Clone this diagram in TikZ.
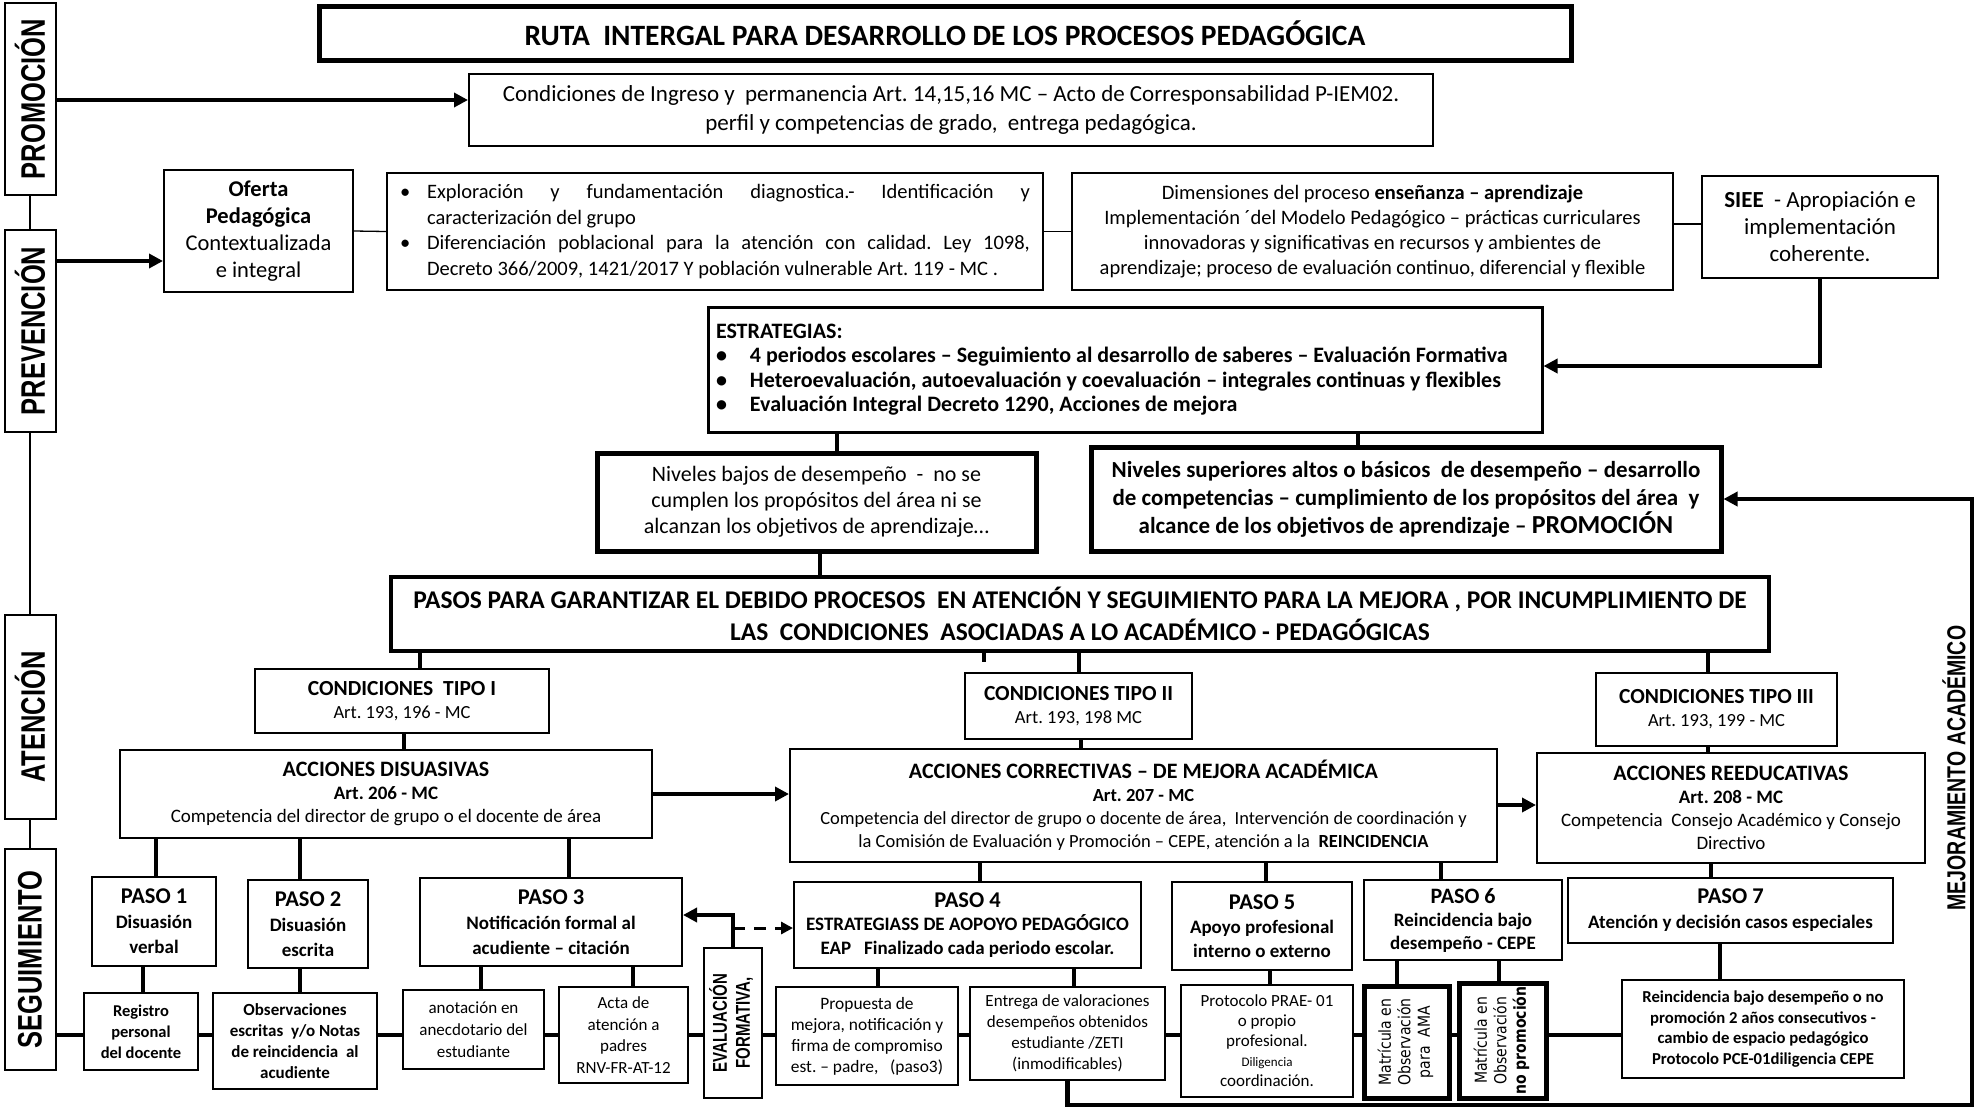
\documentclass[tikz,border=0pt]{standalone}
\usepackage{fontspec}
\setmainfont{Carlito}
\newfontfamily\sidef{Liberation Sans}[FakeStretch=0.75]
\newfontfamily\verd{DejaVu Sans}[FakeStretch=0.85]
\usepackage{graphicx}
\usetikzlibrary{arrows.meta}
\frenchspacing
\newcommand\fz[2]{\fontsize{#1}{#2}\selectfont}
\newcommand\bul{\noindent\hangindent=27pt\hangafter=1\makebox[27pt][l]{\textbullet}}
\newcommand\ebul{\makebox[34pt][l]{\textbullet}}

\begin{document}
\begin{tikzpicture}[x=1pt, y=-1pt,
  box/.style={draw, line width=2pt, fill=white, inner sep=3pt, align=center},
  side/.style={draw, line width=2pt, minimum width=51, inner sep=0pt, font=\sidef\bfseries\fz{34}{34}},
  rot/.style={box, font=\verd\fz{16.5}{19.5}},
  thinline/.style={line width=1.3pt},
  vline/.style={line width=3.5pt},
  chain/.style={line width=3.5pt},
  arr/.style={line width=4.5pt, -{Triangle[length=14pt,width=14pt]}}]
\useasboundingbox (0,0) rectangle (1976,1109);

% columna lateral
\node[side, minimum height=192] (promo) at (30,99) {\rotatebox{90}{PROMOCIÓN}};
\node[side, minimum height=202] (prev) at (30,331) {\rotatebox{90}{PREVENCIÓN}};
\node[side, minimum height=204] (aten) at (30,717) {\rotatebox{90}{ATENCIÓN}};
\node[side, minimum height=221] (segu) at (30,959.5) {\rotatebox{90}{SEGUIMIENTO}};

% parte superior
\node[box, line width=5pt, minimum width=1252, minimum height=54, font=\bfseries\fz{29.5}{32}] (titulo) at (945,33) {RUTA\ \ INTERGAL PARA DESARROLLO DE LOS PROCESOS PEDAGÓGICA};
\node[box, minimum width=964, minimum height=72, font=\fz{23}{29}] (cond) at (951,110) {Condiciones de Ingreso y\ \ permanencia Art. 14,15,16 MC – Acto de Corresponsabilidad P-IEM02.\\ perfil y competencias de grado,\ \ entrega pedagógica.};
\node[box, minimum width=189, minimum height=122, font=\fz{22.5}{27}] (oferta) at (258.5,231) {\textbf{Oferta}\\ \textbf{Pedagógica}\\ Contextualizada\\ e integral};
\node[box, minimum width=656, minimum height=117, text width=630, inner xsep=13pt, align=justify, font=\fz{20.5}{25.5}] (explo) at (715,231.5) {\bul Exploración y fundamentación diagnostica.- Identificación y\linebreak caracterización del grupo\par
  \bul Diferenciación poblacional para la atención con calidad. Ley 1098,\linebreak Decreto 366/2009, 1421/2017 Y población vulnerable Art. 119 - MC .\par};
\node[box, minimum width=601, minimum height=117, font=\fz{20.5}{25}] (dimen) at (1372.5,231.5) {Dimensiones del proceso \textbf{enseñanza – aprendizaje}\\ Implementación ´del Modelo Pedagógico – prácticas curriculares\\ innovadoras y significativas en recursos y ambientes de\\ aprendizaje; proceso de evaluación continuo, diferencial y flexible};
\node[box, minimum width=236, minimum height=102, font=\fz{23}{27}] (siee) at (1820,227) {\textbf{SIEE}\ \ - Apropiación e\\ implementación\\ coherente.};
\node[box, line width=3pt, minimum width=834, minimum height=125, text width=818, inner xsep=8pt, align=flush left, font=\bfseries\fz{22}{24.5}] (estrat) at (1125,369.5) {ESTRATEGIAS:\\ \ebul 4 periodos escolares – Seguimiento al desarrollo de saberes – Evaluación Formativa\\ \ebul Heteroevaluación, autoevaluación y coevaluación – integrales continuas y flexibles\\ \ebul Evaluación Integral Decreto 1290, Acciones de mejora};
\node[box, line width=5pt, minimum width=439, minimum height=98, font=\fz{22}{26}] (nbajo) at (816.5,502) {Niveles bajos de desempeño\ \ -\ \ no se\\ cumplen los propósitos del área ni se\\ alcanzan los objetivos de aprendizaje…};
\node[box, line width=5pt, minimum width=630, minimum height=104, font=\bfseries\fz{23}{28}] (nsup) at (1406,499) {Niveles superiores altos o básicos\ \ de desempeño – desarrollo\\ de competencias – cumplimiento de los propósitos del área\ \ y\\ alcance de los objetivos de aprendizaje – {\fz{26}{28}PROMOCIÓN}};
\node[box, line width=4pt, minimum width=1378, minimum height=74, font=\bfseries\fz{25.5}{32}] (pasos) at (1080,614) {PASOS PARA GARANTIZAR EL DEBIDO PROCESOS\ \ EN ATENCIÓN Y SEGUIMIENTO PARA LA MEJORA , POR INCUMPLIMIENTO DE\\ LAS\ \ CONDICIONES\ \ ASOCIADAS A LO ACADÉMICO - PEDAGÓGICAS};

% condiciones y acciones
\node[box, minimum width=294, minimum height=64, font=\fz{18.5}{23}] (tipo1) at (402,701) {{\bfseries\fz{21.5}{23}CONDICIONES\ \ TIPO I}\\ Art. 193, 196 - MC};
\node[box, minimum width=227, minimum height=66, font=\fz{18.5}{23}] (tipo2) at (1078.5,706) {{\bfseries\fz{21.5}{23}CONDICIONES TIPO II}\\ Art. 193, 198 MC};
\node[box, minimum width=241, minimum height=73, font=\fz{18.5}{23}] (tipo3) at (1716.5,709.5) {{\bfseries\fz{21.5}{23}CONDICIONES TIPO III}\\ Art. 193, 199 - MC};
\node[box, minimum width=532, minimum height=88, font=\fz{19}{23}] (disua) at (386,794) {{\bfseries\fz{22}{23}ACCIONES DISUASIVAS}\\ \textbf{Art. 206 - MC}\\ Competencia del director de grupo o el docente de área};
\node[box, minimum width=707, minimum height=113, font=\fz{18.5}{23}] (correc) at (1143.5,805.5) {{\bfseries\fz{22}{23}ACCIONES CORRECTIVAS – DE MEJORA ACADÉMICA}\\ \textbf{Art. 207 - MC}\\ Competencia del director de grupo o docente de área,\ \ Intervención de coordinación y\\ la Comisión de Evaluación y Promoción – CEPE, atención a la\ \ \textbf{REINCIDENCIA}};
\node[box, minimum width=388, minimum height=110, font=\fz{19}{23}] (reedu) at (1731,808) {{\bfseries\fz{22}{23}ACCIONES REEDUCATIVAS}\\ \textbf{Art. 208 - MC}\\ Competencia\ \ Consejo Académico y Consejo\\ Directivo};

% pasos
\node[box, minimum width=124, minimum height=89, font=\bfseries\fz{19}{25}] (paso1) at (154,921.5) {{\fz{22.5}{25}PASO 1}\\ Disuasión\\ verbal};
\node[box, minimum width=120, minimum height=88, font=\bfseries\fz{19}{25}] (paso2) at (308,924) {{\fz{22.5}{25}PASO 2}\\ Disuasión\\ escrita};
\node[box, minimum width=262, minimum height=88, font=\bfseries\fz{19}{25}] (paso3) at (551,922) {{\fz{22.5}{25}PASO 3}\\ Notificación formal al\\ acudiente – citación};
\node[box, minimum width=347, minimum height=86, font=\bfseries\fz{19}{23.5}] (paso4) at (967.5,925) {{\fz{22.5}{23.5}PASO 4}\\ ESTRATEGIASS DE AOPOYO PEDAGÓGICO\\ EAP\ \ \ Finalizado cada periodo escolar.};
\node[box, minimum width=180, minimum height=88, font=\bfseries\fz{19}{24}] (paso5) at (1262,926) {{\fz{22.5}{24}PASO 5}\\ Apoyo profesional\\ interno o externo};
\node[box, minimum width=198, minimum height=80, inner ysep=1pt, font=\bfseries\fz{19}{23}] (paso6) at (1463,920) {{\fz{22}{23}PASO 6}\\ Reincidencia bajo\\ desempeño - CEPE};
\node[box, minimum width=325, minimum height=65, font=\bfseries\fz{19}{25}] (paso7) at (1730.5,910.5) {{\fz{22.5}{25}PASO 7}\\ Atención y decisión casos especiales};

% fila inferior
\node[box, minimum width=114, minimum height=77, font=\bfseries\fz{16.5}{21}] (regis) at (141,1031.5) {Registro\\ personal\\ del docente};
\node[box, minimum width=164, minimum height=96, font=\bfseries\fz{17}{21}] (obser) at (295,1041) {Observaciones\\ escritas\ \ y/o Notas\\ de reincidencia\ \ al\\ acudiente};
\node[box, minimum width=141, minimum height=79, font=\fz{17}{22}] (anot) at (473.5,1029.5) {anotación en\\ anecdotario del\\ estudiante};
\node[box, minimum width=129, minimum height=96, font=\fz{17}{21.5}] (acta) at (623.5,1035) {Acta de\\ atención a\\ padres\\ RNV-FR-AT-12};
\node[box, minimum width=58, minimum height=150, font=\sidef\bfseries\fz{20}{23}] (evalf) at (733,1023) {\rotatebox{90}{\begin{tabular}{@{}c@{}}EVALUACIÓN\\ FORMATIVA,\end{tabular}}};
\node[box, minimum width=182, minimum height=98, font=\fz{17.4}{21}] (propu) at (867,1036) {Propuesta de\\ mejora, notificación y\\ firma de compromiso\\ est. – padre,\ \ \ (paso3)};
\node[box, minimum width=195, minimum height=93, font=\fz{17}{21}] (entre) at (1067.5,1033.5) {Entrega de valoraciones\\ desempeños obtenidos\\ estudiante /ZETI\\ (inmodificables)};
\node[box, minimum width=172, minimum height=112, font=\fz{17}{20}] (proto) at (1267,1041) {Protocolo PRAE- 01\\ o propio\\ profesional.\\ \fz{13}{17}Diligencia\\ coordinación.};
\node[rot, line width=5pt, minimum width=85, minimum height=112] (ama) at (1406.5,1042) {\rotatebox{90}{\begin{tabular}{@{}c@{}}Matrícula en\\ Observación\\ para\ \ AMA\end{tabular}}};
\node[rot, line width=5pt, minimum width=87, minimum height=115] (nopro) at (1502.5,1040.5) {\rotatebox{90}{\begin{tabular}{@{}c@{}}Matrícula en\\ Observación\\ \textbf{no promoción}\end{tabular}}};
\node[box, minimum width=282, minimum height=98, font=\bfseries\fz{16.7}{20.5}] (reinc) at (1763,1029) {Reincidencia bajo desempeño o no\\ promoción 2 años consecutivos -\\ cambio de espacio pedagógico\\ Protocolo PCE-01diligencia CEPE};

\node[font=\sidef\bfseries\fz{26}{26}, rotate=90] (mejtxt) at (1954,768) {MEJORAMIENTO ACADÉMICO};
\coordinate (mejo) at (1972,1105);

% conexiones
\draw[line width=2pt] (promo.south) -- (prev.north);
\draw[line width=2pt] (prev.south) -- (aten.north);
\draw[line width=2pt] (aten.south) -- (segu.north);
\draw[arr] (promo.east |- 0,100) -- (cond.west |- 0,100);
\draw[arr] (prev.east |- 0,261) -- (oferta.west |- 0,261);
\draw[thinline] (oferta.east) -- (explo.west);
\draw[thinline] (explo.east) -- (dimen.west);
\draw[thinline] (dimen.east |- 0,224) -- (siee.west |- 0,224);
\draw[arr] (siee.south) |- (estrat.east |- 0,366);
\draw[arr] (disua.east |- 0,794) -- (correc.west |- 0,794);
\draw[arr] (correc.east |- 0,805) -- (reedu.west |- 0,805);
\draw[arr] (evalf.north) |- (paso3.east |- 0,915);
\draw[line width=3pt, dash pattern=on 12pt off 9pt, -{Triangle[length=12pt,width=12pt]}] (evalf.north |- 0,928) -- (paso4.west |- 0,928);
\draw[arr] (entre.south) |- (mejo) |- (nsup.east);
\draw[vline] (pasos.south -| 984,0) -- ++(0,9);

\foreach \a/\b/\x in {estrat/nbajo/837, estrat/nsup/1358, nbajo/pasos/820,
    pasos/tipo1/420, pasos/tipo2/1079, pasos/tipo3/1708,
    tipo1/disua/404, tipo2/correc/1081, tipo3/reedu/1708,
    disua/paso1/156, disua/paso2/300, disua/paso3/569,
    correc/paso4/980, correc/paso5/1266, correc/paso6/1441, reedu/paso7/1711,
    paso1/regis/143, paso2/obser/300, paso3/anot/481, paso3/acta/633,
    paso4/propu/878, paso4/entre/1074, paso5/proto/1270,
    paso6/ama/1397, paso6/nopro/1499, paso7/reinc/1720}
  \draw[vline] (\a.south -| \x,0) -- (\b.north -| \x,0);

\foreach \a/\b in {segu/regis, regis/obser, obser/anot, anot/acta, acta/evalf,
    evalf/propu, propu/entre, entre/proto, proto/ama, ama/nopro, nopro/reinc}
  \draw[chain] (\a.east |- 0,1035) -- (\b.west |- 0,1035);
\end{tikzpicture}
\end{document}
